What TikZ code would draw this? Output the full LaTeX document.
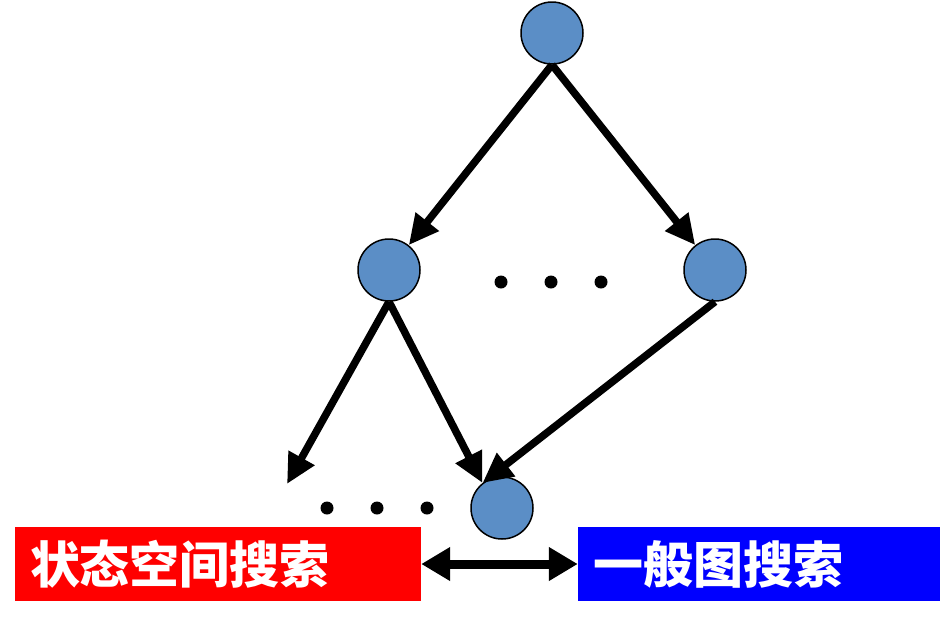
\documentclass[tikz,border=0pt]{standalone}
\usepackage{fontspec}
\newfontfamily\cjk{Noto Sans CJK SC Black}
\usetikzlibrary{arrows.meta}
\definecolor{nodeblue}{RGB}{91,142,198}
\definecolor{boxred}{RGB}{255,0,0}
\definecolor{boxblue}{RGB}{0,0,255}
\tikzset{
  vert/.style={circle,draw=black,line width=1.5pt,fill=nodeblue,minimum size=62pt,inner sep=0pt},
  edge/.style={line width=7.5pt,-{Triangle[length=30pt,width=28pt]}},
  dot/.style={circle,fill=black,minimum size=13pt,inner sep=0pt},
  labelbox/.style={minimum height=74pt,inner ysep=0pt,inner xsep=15pt,align=left,
    text=white,font=\cjk\fontsize{50pt}{55pt}\selectfont},
  dbl/.style={line width=9pt,{Triangle[length=29pt,width=32pt]}-{Triangle[length=29pt,width=32pt]}}
}
\begin{document}
\begin{tikzpicture}[x=1pt,y=-1pt]
\useasboundingbox (0,0) rectangle (940,625);
\node[vert] (top) at (552,33) {};
\node[vert] (lm) at (389,270) {};
\node[vert] (rm) at (715,270) {};
\node[vert] (bot) at (502,508) {};
\coordinate (free) at (287,484);
\draw[edge] (top.south) -- (lm);
\draw[edge] (top.south) -- (rm);
\draw[edge] (lm.south) -- (free);
\draw[edge] (lm.south) -- (bot.128);
\draw[edge] (rm.south) -- (bot.128);
\node[dot] (d1) at (501,282) {};
\node[dot] (d2) at (551,282) {};
\node[dot] (d3) at (601,282) {};
\node[dot] (d4) at (327,508) {};
\node[dot] (d5) at (377,508) {};
\node[dot] (d6) at (427,508) {};
\node[labelbox,fill=boxred,text width=376pt] (state) at (218,564) {状态空间搜索};
\node[labelbox,fill=boxblue,text width=332pt] (graph) at (759,564) {一般图搜索};
\draw[dbl] (state) -- (graph);
\end{tikzpicture}
\end{document}
